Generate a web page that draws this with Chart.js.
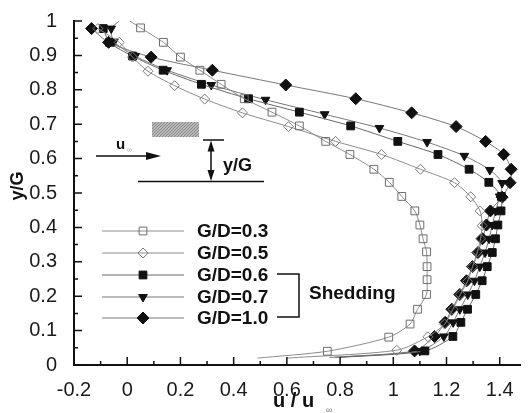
<!DOCTYPE html>
<html>
<head>
<meta charset="utf-8">
<script src="https://cdn.jsdelivr.net/npm/chart.js@4"></script>
<style>
  body { margin: 0; background: #fff; }
  #wrap { width: 528px; height: 413px; }
</style>
</head>
<body>
<div id="wrap"><canvas id="chart" width="528" height="413"></canvas></div>
<script>
// tick labels
const xTickValues = [-0.2, 0, 0.2, 0.4, 0.6, 0.8, 1, 1.2, 1.4];
const yTickValues = [0, 0.1, 0.2, 0.3, 0.4, 0.5, 0.6, 0.7, 0.8, 0.9, 1];

const seriesLabels = ['G/D=0.3', 'G/D=0.5', 'G/D=0.6', 'G/D=0.7', 'G/D=1.0'];

// G/D = 0.3
const u03 = [0.01, 0.05, 0.136, 0.20, 0.273, 0.353, 0.44, 0.544, 0.647, 0.746, 0.837, 0.927, 0.985, 1.032, 1.081, 1.10, 1.112, 1.125, 1.127, 1.127, 1.125, 1.091, 1.063, 0.983, 0.752, 0.49];
const y03 = [1.0, 0.98, 0.938, 0.895, 0.857, 0.816, 0.774, 0.735, 0.695, 0.65, 0.612, 0.569, 0.531, 0.49, 0.448, 0.407, 0.367, 0.329, 0.286, 0.248, 0.205, 0.162, 0.119, 0.081, 0.04, 0.02];
const hide03 = [0, 25];

// G/D = 0.5
const u05 = [-0.11, -0.03, 0.02, 0.078, 0.178, 0.291, 0.433, 0.606, 0.783, 0.956, 1.102, 1.23, 1.291, 1.326, 1.334, 1.328, 1.316, 1.298, 1.279, 1.252, 1.224, 1.193, 1.13, 1.013, 0.6];
const y05 = [0.978, 0.938, 0.895, 0.854, 0.812, 0.773, 0.733, 0.693, 0.65, 0.612, 0.569, 0.53, 0.489, 0.448, 0.405, 0.367, 0.329, 0.286, 0.243, 0.205, 0.162, 0.119, 0.082, 0.043, 0.02];
const hide05 = [24];

// G/D = 0.6
const u06 = [-0.09, -0.067, 0.02, 0.135, 0.279, 0.456, 0.647, 0.84, 1.017, 1.168, 1.285, 1.359, 1.406, 1.405, 1.393, 1.384, 1.372, 1.353, 1.334, 1.31, 1.279, 1.254, 1.224, 1.119, 0.8];
const y06 = [0.978, 0.938, 0.898, 0.857, 0.816, 0.774, 0.735, 0.695, 0.65, 0.612, 0.569, 0.531, 0.49, 0.448, 0.407, 0.367, 0.327, 0.286, 0.245, 0.205, 0.162, 0.124, 0.083, 0.041, 0.022];
const hide06 = [24];

// G/D = 0.7
const u07 = [-0.03, -0.06, -0.05, 0.03, 0.15, 0.316, 0.52, 0.742, 0.948, 1.127, 1.267, 1.363, 1.409, 1.40, 1.385, 1.372, 1.36, 1.345, 1.325, 1.305, 1.28, 1.25, 1.225, 1.19, 1.10, 0.78];
const y07 = [1.0, 0.978, 0.94, 0.898, 0.857, 0.814, 0.771, 0.729, 0.689, 0.648, 0.608, 0.567, 0.529, 0.49, 0.448, 0.407, 0.367, 0.327, 0.286, 0.245, 0.205, 0.162, 0.124, 0.083, 0.041, 0.022];
const hide07 = [0, 25];

// G/D = 1.0
const u10 = [-0.134, -0.07, 0.09, 0.32, 0.596, 0.859, 1.069, 1.236, 1.347, 1.415, 1.443, 1.439, 1.409, 1.365, 1.35, 1.335, 1.318, 1.298, 1.275, 1.25, 1.22, 1.195, 1.155, 1.08, 0.76];
const y10 = [0.978, 0.938, 0.895, 0.857, 0.814, 0.774, 0.733, 0.693, 0.65, 0.612, 0.569, 0.53, 0.488, 0.448, 0.407, 0.367, 0.327, 0.286, 0.245, 0.205, 0.162, 0.124, 0.083, 0.041, 0.022];
const hide10 = [24];

const toPoints = (us, ys) => us.map((u, i) => ({ x: u, y: ys[i] }));
const radiusFor = (r, hidden) => ctx => (hidden.includes(ctx.dataIndex) ? 0 : r);

const styles = [
  { pointStyle: 'rect', radius: 5.5, fill: 'rgba(0,0,0,0)', stroke: '#6d6d6d', line: '#8c8c8c', rot: 0 },
  { pointStyle: 'rectRot', radius: 5, fill: 'rgba(0,0,0,0)', stroke: '#7a7a7a', line: '#8c8c8c', rot: 0 },
  { pointStyle: 'rect', radius: 5.5, fill: '#111', stroke: '#111', line: '#666', rot: 0 },
  { pointStyle: 'triangle', radius: 5, fill: '#111', stroke: '#111', line: '#777', rot: 180 },
  { pointStyle: 'rectRot', radius: 6, fill: '#111', stroke: '#111', line: '#777', rot: 0 },
];
const seriesData = [
  [u03, y03, hide03], [u05, y05, hide05], [u06, y06, hide06], [u07, y07, hide07], [u10, y10, hide10],
];

const datasets = seriesData.map((s, i) => ({
  label: seriesLabels[i],
  data: toPoints(s[0], s[1]),
  showLine: true,
  tension: 0.25,
  borderColor: styles[i].line,
  borderWidth: 1,
  pointStyle: styles[i].pointStyle,
  pointRotation: styles[i].rot,
  pointRadius: radiusFor(styles[i].radius, s[2]),
  pointBorderColor: styles[i].stroke,
  pointBackgroundColor: styles[i].fill,
  pointBorderWidth: 1,
  pointHoverRadius: 0,
}));

function marker(ctx, style, x, y) {
  const r = style.radius;
  ctx.save();
  ctx.fillStyle = style.fill;
  ctx.strokeStyle = style.stroke;
  ctx.lineWidth = 1;
  ctx.beginPath();
  if (style.pointStyle === 'rect') {
    const s = r * Math.SQRT1_2;
    ctx.rect(x - s, y - s, 2 * s, 2 * s);
  } else if (style.pointStyle === 'rectRot') {
    ctx.moveTo(x, y - r); ctx.lineTo(x + r, y); ctx.lineTo(x, y + r); ctx.lineTo(x - r, y); ctx.closePath();
  } else {
    const h = r * 1.5;
    ctx.moveTo(x - r * 0.87, y - h / 3); ctx.lineTo(x + r * 0.87, y - h / 3); ctx.lineTo(x, y + 2 * h / 3); ctx.closePath();
  }
  ctx.fill();
  ctx.stroke();
  ctx.restore();
}

function arrowHead(ctx, x, y, dir) {
  // dir: 'r', 'u', 'd'
  ctx.beginPath();
  if (dir === 'r') { ctx.moveTo(x, y); ctx.lineTo(x - 15, y - 4); ctx.lineTo(x - 15, y + 4); }
  if (dir === 'u') { ctx.moveTo(x, y); ctx.lineTo(x - 3.5, y + 11); ctx.lineTo(x + 3.5, y + 11); }
  if (dir === 'd') { ctx.moveTo(x, y); ctx.lineTo(x - 3.5, y - 11); ctx.lineTo(x + 3.5, y - 11); }
  ctx.closePath();
  ctx.fill();
}

const decor = {
  id: 'decor',
  afterDraw(chart) {
    const { ctx, chartArea: a, scales } = chart;
    const xs = scales.x, ys = scales.y;
    ctx.save();
    ctx.strokeStyle = '#111';
    ctx.fillStyle = '#111';

    // axis lines
    ctx.lineWidth = 2;
    ctx.beginPath();
    ctx.moveTo(a.left, a.top - 1);
    ctx.lineTo(a.left, a.bottom);
    ctx.lineTo(a.right, a.bottom);
    ctx.stroke();

    // inward ticks
    ctx.lineWidth = 1.5;
    ctx.beginPath();
    for (let k = -2; k <= 14; k++) {
      const px = xs.getPixelForValue(k / 10);
      const len = k % 2 === 0 ? 8 : 4;
      ctx.moveTo(px, a.bottom); ctx.lineTo(px, a.bottom - len);
    }
    for (let k = 0; k <= 20; k++) {
      const py = ys.getPixelForValue(k / 20);
      const len = k % 2 === 0 ? 8 : 4;
      ctx.moveTo(a.left, py); ctx.lineTo(a.left + len, py);
    }
    ctx.stroke();

    // axis titles
    ctx.font = 'bold 20px "Liberation Sans", Arial, sans-serif';
    ctx.textBaseline = 'alphabetic';
    ctx.textAlign = 'left';
    ctx.fillText('u / u', 273, 407);
    ctx.font = '9px "Liberation Sans", Arial, sans-serif';
    ctx.fillStyle = '#777';
    ctx.fillText('\u221e', 326, 413);
    ctx.fillStyle = '#111';
    ctx.save();
    ctx.translate(23, 186);
    ctx.rotate(-Math.PI / 2);
    ctx.textAlign = 'center';
    ctx.font = 'bold 18px "Liberation Sans", Arial, sans-serif';
    ctx.fillText('y/G', 0, 0);
    ctx.restore();

    // inset sketch: cylinder over wall
    ctx.fillStyle = '#b8b8b8';
    ctx.fillRect(152, 122, 47, 15);
    ctx.strokeStyle = '#8a8a8a';
    ctx.lineWidth = 1;
    ctx.save();
    ctx.beginPath(); ctx.rect(152, 122, 47, 15); ctx.clip();
    ctx.beginPath();
    for (let d = -20; d < 60; d += 3) { ctx.moveTo(152 + d, 137); ctx.lineTo(152 + d + 15, 122); }
    ctx.stroke();
    ctx.restore();

    ctx.strokeStyle = '#111';
    ctx.fillStyle = '#111';
    ctx.lineWidth = 1.5;
    ctx.beginPath();
    ctx.moveTo(96, 156); ctx.lineTo(150, 156);
    ctx.moveTo(138, 181.5); ctx.lineTo(264, 181.5);
    ctx.moveTo(203, 140); ctx.lineTo(224, 140);
    ctx.moveTo(211, 148); ctx.lineTo(211, 174);
    ctx.stroke();
    arrowHead(ctx, 161, 156, 'r');
    arrowHead(ctx, 211, 140.5, 'u');
    arrowHead(ctx, 211, 181, 'd');
    ctx.font = 'bold 15px "Liberation Sans", Arial, sans-serif';
    ctx.fillText('u', 116, 149);
    ctx.font = '7px "Liberation Sans", Arial, sans-serif';
    ctx.fillStyle = '#999';
    ctx.fillText('\u221e', 127, 152);
    ctx.fillStyle = '#111';
    ctx.font = 'bold 18px "Liberation Sans", Arial, sans-serif';
    ctx.textBaseline = 'middle';
    ctx.fillText('y/G', 223, 166);

    // legend
    const rows = [231, 253, 275, 297, 318];
    rows.forEach((ry, i) => {
      ctx.strokeStyle = styles[i].line;
      ctx.lineWidth = 1;
      ctx.beginPath(); ctx.moveTo(102, ry); ctx.lineTo(184, ry); ctx.stroke();
      marker(ctx, styles[i], 143, ry);
      ctx.fillStyle = '#111';
      ctx.font = 'bold 19px "Liberation Sans", Arial, sans-serif';
      ctx.textBaseline = 'middle';
      ctx.fillText(seriesLabels[i], 197, ry + 1);
    });
    ctx.strokeStyle = '#111';
    ctx.lineWidth = 1.5;
    ctx.beginPath();
    ctx.moveTo(277, 274); ctx.lineTo(299, 274); ctx.lineTo(299, 317); ctx.lineTo(277, 317);
    ctx.stroke();
    ctx.fillText('Shedding', 309, 294);

    ctx.restore();
  }
};

const fmt = v => String(Math.round(v * 10) / 10);

new Chart(document.getElementById('chart'), {
  type: 'scatter',
  data: { datasets },
  options: {
    responsive: false,
    animation: false,
    layout: { padding: { top: 15, right: 0, left: 0, bottom: 0 } },
    plugins: { legend: { display: false }, tooltip: { enabled: false } },
    scales: {
      x: {
        type: 'linear',
        min: -0.2,
        max: 1.48,
        afterBuildTicks: s => { s.ticks = xTickValues.map(v => ({ value: v })); },
        afterFit: s => { s.height = 48; },
        grid: { display: false },
        border: { display: false },
        ticks: {
          padding: 5,
          color: '#1a1a1a',
          font: { size: 20, family: '"Liberation Sans", Arial, sans-serif' },
          callback: v => fmt(v),
          maxRotation: 0,
          autoSkip: false,
        },
      },
      y: {
        type: 'linear',
        min: 0,
        max: 1,
        afterBuildTicks: s => { s.ticks = yTickValues.map(v => ({ value: v })); },
        afterFit: s => { s.width = 74; },
        grid: { display: false },
        border: { display: false },
        ticks: {
          padding: 9,
          color: '#1a1a1a',
          font: { size: 20, family: '"Liberation Sans", Arial, sans-serif' },
          callback: v => fmt(v),
          autoSkip: false,
        },
      },
    },
  },
  plugins: [decor],
});
</script>
</body>
</html>
